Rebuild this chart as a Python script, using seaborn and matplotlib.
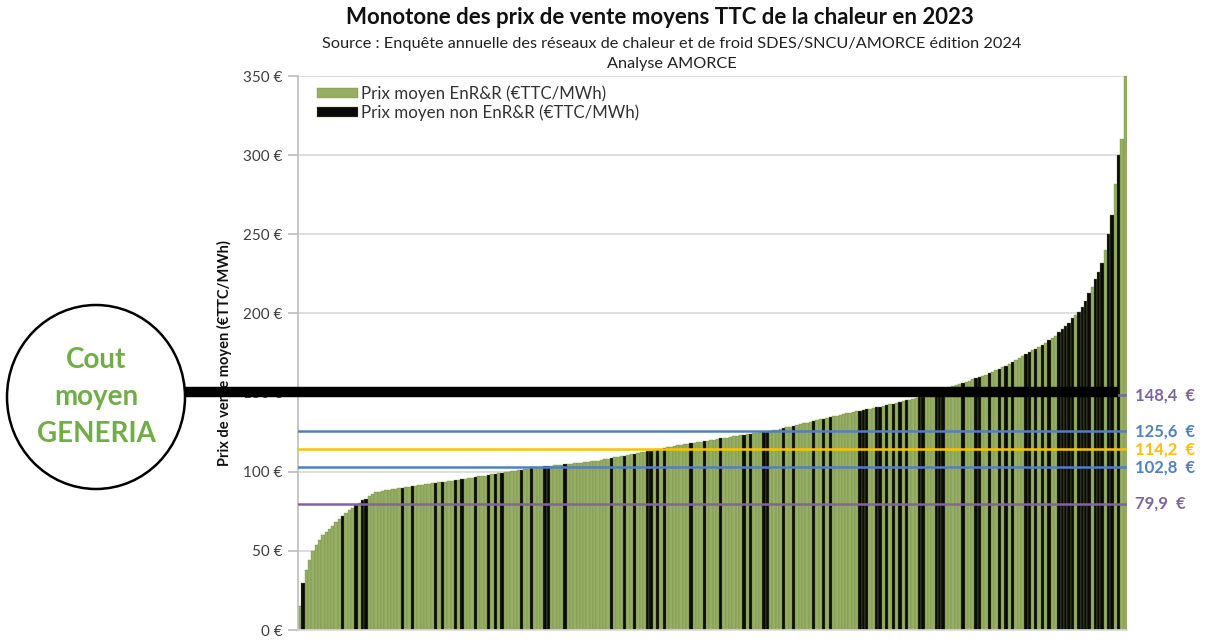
import matplotlib
matplotlib.use("Agg")
import matplotlib.pyplot as plt
from matplotlib.patches import Ellipse
import seaborn as sns
import pandas as pd

# ---- data (sorted monotone curve) ----
prix = [
    15, 30, 38, 44, 50, 54, 57, 60, 62, 64, 66, 68, 70, 72, 74, 76, 77, 79, 80, 82,
    83, 84.5, 86, 87, 87.5, 88,
    88.3, 88.6, 89, 89.3, 89.6, 90, 90.3, 90.6, 91, 91.2, 91.5, 91.8, 92, 92.3, 92.6,
    93, 93.2, 93.5, 93.8, 94,
    94.3, 94.6, 95, 95.3, 95.6, 96, 96.3, 96.6, 97, 97.3, 97.6, 98, 98.3, 98.6, 99,
    99.3, 99.6, 100, 100.3, 100.6, 101, 101.3, 101.6, 102, 102.4,
    102.7, 103, 103.2, 103.4, 103.6, 103.8, 104, 104.2, 104.4, 104.6, 104.8, 105,
    105.2, 105.4, 105.7, 106, 106.3, 106.5, 106.8, 107,
    107.4, 107.8, 108.2, 108.6, 109, 109.4, 109.8, 110.2, 110.6, 111, 111.4, 111.8,
    112.2, 112.6, 113, 113.4, 113.8, 114.2, 114.6, 115, 115.4, 115.8, 116.2, 116.6, 117,
    117.3, 117.6, 118, 118.3, 118.6, 119, 119.3, 119.6, 120, 120.3, 120.6, 121, 121.3,
    121.6, 122, 122.3, 122.6, 123, 123.3, 123.6, 124, 124.2, 124.5, 124.8, 125,
    125.4, 125.8, 126.2, 126.6, 127, 127.5, 128, 128.5, 129, 129.5, 130, 130.5, 131,
    131.5, 132, 132.5, 133, 133.5, 134, 134.5, 135, 135.5, 136, 136.5, 137,
    137.4, 137.8, 138.2, 138.6, 139, 139.4, 139.8, 140.2, 140.6, 141, 141.5, 142,
    142.5, 143, 143.5, 144, 144.5, 145, 145.5, 146, 146.5, 147, 147.5, 148, 148.5,
    149.3, 150, 150.8, 151.6, 152.4, 153.2, 154, 154.8, 155.5, 156.2, 156.9, 157.6,
    158.3, 159, 159.8, 160.6, 161.4, 162.2, 163, 164,
    165, 166, 167, 168.2, 169.4, 170.6, 171.8, 173, 174.2, 175.4, 176.6, 177.8, 179,
    180.2, 181.5, 183, 184.5, 186, 188, 190,
    192, 194, 197, 199, 201, 204, 208, 213, 217, 222, 226, 232, 240, 250, 262, 282,
    300, 310, 350,
]

# ranks of the networks whose price is "non EnR&R" (black bars)
rangs_non_enr = [
    1, 13, 17, 19, 20, 31, 34, 41, 43, 47, 49, 53, 57, 59, 61, 67, 70, 74, 75, 80,
    94, 98, 101, 105, 106, 108, 110, 118, 122, 127, 134, 136, 140, 141, 146, 149, 155,
    158, 160, 169, 170, 171, 174, 175, 177, 179, 181, 183, 187, 188, 192, 193, 194,
    200, 204, 205, 208, 211, 213, 215, 219, 220, 222, 224, 226, 229, 230, 231, 232,
    233, 235, 236, 237, 238, 240, 241, 242, 244, 245, 247,
]

series_labels = ["Prix moyen EnR&R (€TTC/MWh)", "Prix moyen non EnR&R (€TTC/MWh)"]
series_colors = ["#9BBB59", "#0a0a0a"]

ref_values = [148.4, 125.6, 114.2, 102.8, 79.9]
ref_labels = ["148,4  €", "125,6  €", "114,2  €", "102,8  €", "79,9  €"]
ref_colors = ["#8064A2", "#4F81BD", "#FFC000", "#4F81BD", "#8064A2"]

generia_value = 150.5
generia_text = "Cout\nmoyen\nGENERIA"

y_ticks = [0, 50, 100, 150, 200, 250, 300, 350]
y_ticklabels = [f"{v} €" for v in y_ticks]

title = "Monotone des prix de vente moyens TTC de la chaleur en 2023"
subtitle1 = "Source : Enquête annuelle des réseaux de chaleur et de froid SDES/SNCU/AMORCE édition 2024"
subtitle2 = "Analyse AMORCE"
ylabel = "Prix de vente moyen (€TTC/MWh)"

# ---- build frame ----
rangs = list(range(len(prix)))
types = [series_labels[1] if r in rangs_non_enr else series_labels[0] for r in rangs]
df = pd.DataFrame({"rang": rangs, "prix": prix, "type": types})

sns.set_theme(style="white")
plt.rcParams["font.family"] = ["Lato", "DejaVu Sans"]

W, H = 1207, 644
fig = plt.figure(figsize=(W / 100, H / 100), dpi=100)
ax = fig.add_axes([298 / W, 1 - 630 / H, (1127 - 298) / W, (630 - 76) / H])

sns.barplot(
    data=df, x="rang", y="prix", hue="type", hue_order=series_labels,
    palette=dict(zip(series_labels, series_colors)), dodge=False, width=1.0,
    linewidth=0.25, edgecolor="#6f8a3c", ax=ax, legend=True,
)

ax.set_xlim(-0.5, len(prix) - 0.5)
ax.set_ylim(0, 350)
ax.set_yticks(y_ticks)
ax.set_yticklabels(y_ticklabels, fontsize=11, color="#404040")
ax.set_xticks([])
ax.set_xlabel("")
ax.set_ylabel(ylabel, fontsize=10.5, fontweight="bold", color="#111111", labelpad=8)
ax.yaxis.grid(True, color="#d9d9d9", linewidth=1.2)
ax.set_axisbelow(True)
ax.tick_params(axis="y", which="both", left=True, length=7, color="#bfbfbf", pad=4)
for s in ["top", "right"]:
    ax.spines[s].set_visible(False)
ax.spines["left"].set_color("#bfbfbf")
ax.spines["bottom"].set_color("#d9d9d9")

# reference lines
for v, lab, c in zip(ref_values, ref_labels, ref_colors):
    ax.axhline(v, color=c, linewidth=1.8, zorder=3)
    ax.text(1.01, v, lab, transform=ax.get_yaxis_transform(), color=c,
            fontsize=12, fontweight="bold", va="center", ha="left")

# GENERIA line out to the circle
ax.plot([(185 - 298) / (1127 - 298), (1118 - 298) / (1127 - 298)],
        [generia_value, generia_value], color="black", linewidth=7.5,
        transform=ax.get_yaxis_transform(), clip_on=False, zorder=5,
        solid_capstyle="butt")

circ = Ellipse((96 / W, 1 - 397 / H), 178 / W, 184 / H, transform=fig.transFigure,
               facecolor="white", edgecolor="black", linewidth=1.8, zorder=6)
fig.patches.append(circ)
fig.text(96 / W, 1 - 397 / H, generia_text, ha="center", va="center",
         fontsize=20, fontweight="bold", color="#70AD47", linespacing=1.5, zorder=7)

# legend
leg = ax.legend(loc="upper left", bbox_to_anchor=(0.005, 1.01), frameon=False,
                fontsize=12.2, handlelength=2.4, handleheight=0.55,
                handletextpad=0.15, labelspacing=0.12)
for t in leg.get_texts():
    t.set_color("#333333")

# titles
fig.text(660 / W, 1 - 17 / H, title, ha="center", va="center", fontsize=16,
         fontweight="bold", color="#111111")
fig.text(672 / W, 1 - 44 / H, subtitle1, ha="center", va="center", fontsize=11.7,
         color="#222222")
fig.text(672 / W, 1 - 64 / H, subtitle2, ha="center", va="center", fontsize=11.7,
         color="#222222")

fig.savefig("out.png", dpi=100)
